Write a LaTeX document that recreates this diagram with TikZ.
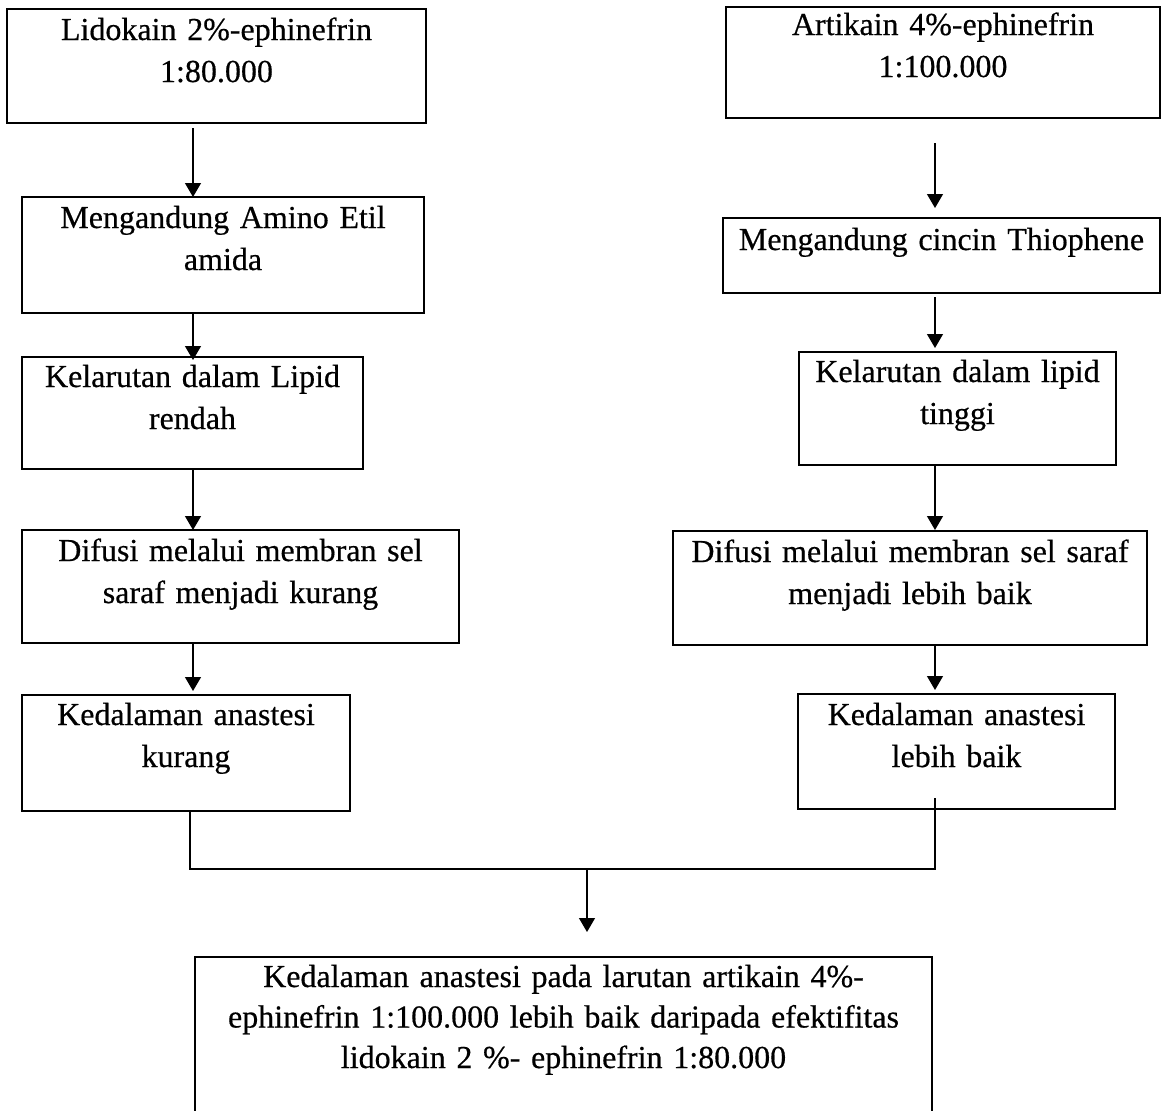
\documentclass[tikz,border=0pt]{standalone}
\usepackage{fontspec}
\setmainfont{Liberation Serif}[FakeBold=0.5]
\usetikzlibrary{arrows.meta}
\begin{document}
\begin{tikzpicture}[x=1pt,y=-1pt,
  box/.style={draw, line width=1.3pt, inner sep=0pt, outer sep=0pt, align=center,
    anchor=north west, font=\fontsize{32}{42}\selectfont},
  ln/.style={line width=1.3pt},
  arr/.style={line width=1.3pt, -{Triangle[width=16pt,length=14pt]}}]
\useasboundingbox (0,0) rectangle (1162,1111);
\coordinate (cl) at (193,0);
\coordinate (cr) at (935,0);
\coordinate (cjl) at (190,0);
\coordinate (jn) at (587,869);
% left column
\node[box, text width=419pt, text height=31pt, text depth=83pt] (l1) at (7,9) {Lidokain 2\%-ephinefrin\\1:80.000};
\node[box, text width=402pt, text height=31pt, text depth=85pt] (l2) at (22,197) {Mengandung Amino Etil\\amida};
\node[box, text width=341pt, text height=30pt, text depth=82pt] (l3) at (22,357) {Kelarutan dalam Lipid\\rendah};
\node[box, text width=437pt, text height=31pt, text depth=82pt] (l4) at (22,530) {Difusi melalui membran sel\\saraf menjadi kurang};
\node[box, text width=328pt, text height=30pt, text depth=86pt] (l5) at (22,695) {Kedalaman anastesi\\kurang};
% right column
\node[box, text width=434pt, text height=28pt, text depth=83pt] (r1) at (726,7) {Artikain 4\%-ephinefrin\\1:100.000};
\node[box, text width=437pt, text height=32pt, text depth=43pt] (r2) at (723,218) {Mengandung cincin Thiophene};
\node[box, text width=317pt, text height=30pt, text depth=83pt] (r3) at (799,352) {Kelarutan dalam lipid\\tinggi};
\node[box, text width=474pt, text height=31pt, text depth=83pt] (r4) at (673,531) {Difusi melalui membran sel saraf\\menjadi lebih baik};
\node[box, text width=317pt, text height=31pt, text depth=84pt] (r5) at (798,694) {Kedalaman anastesi\\lebih baik};
% bottom
\node[box, font=\fontsize{32}{40.5}\selectfont, text width=737pt, text height=30pt, text depth=126pt] (bot) at (195,957)
  {Kedalaman anastesi pada larutan artikain 4\%-\\ephinefrin 1:100.000 lebih baik daripada efektifitas\\lidokain 2 \%- ephinefrin 1:80.000};
% arrows
\draw[arr] ([yshift=-5pt]l1.south -| cl) -- (l2.north -| cl);
\draw[arr] (l2.south -| cl) -- ([yshift=-3pt]l3.north -| cl);
\draw[arr] (l3.south -| cl) -- (l4.north -| cl);
\draw[arr] (l4.south -| cl) -- ([yshift=4pt]l5.north -| cl);
\draw[arr] ([yshift=-25pt]r1.south -| cr) -- ([yshift=10pt]r2.north -| cr);
\draw[arr] ([yshift=-4pt]r2.south -| cr) -- ([yshift=4pt]r3.north -| cr);
\draw[arr] (r3.south -| cr) -- ([yshift=1pt]r4.north -| cr);
\draw[arr] (r4.south -| cr) -- ([yshift=4pt]r5.north -| cr);
\draw[ln] (l5.south -| cjl) |- (jn) -| ([yshift=11pt]r5.south -| cr);
\draw[arr] (jn) -- ([yshift=25pt]bot.north -| jn);
\end{tikzpicture}
\end{document}
